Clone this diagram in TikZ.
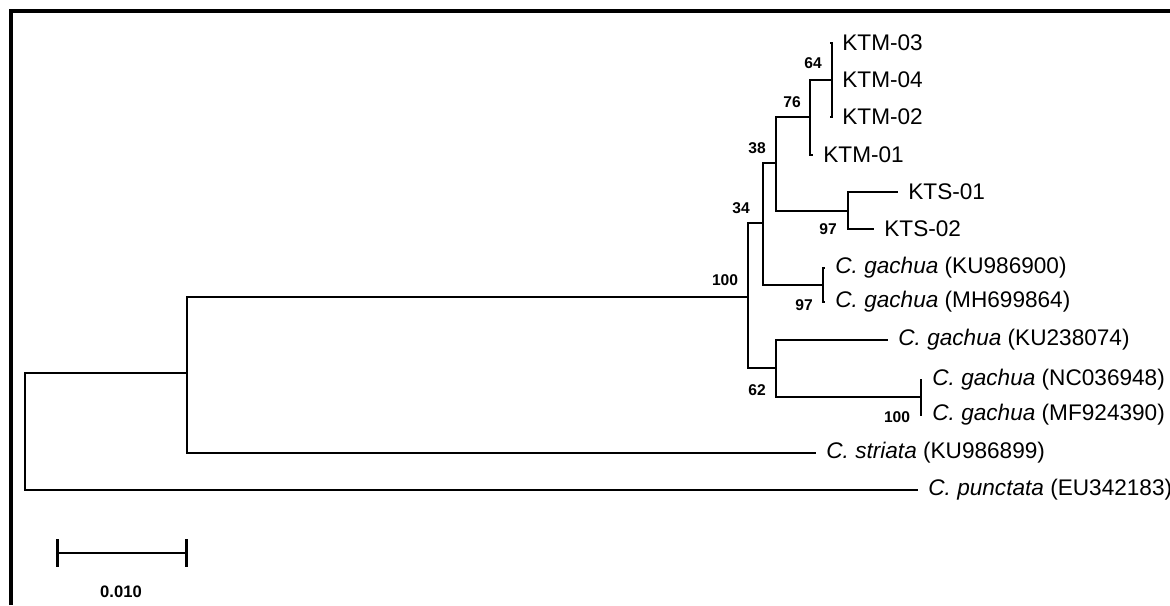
\documentclass[tikz,border=0pt]{standalone}
\usepackage{fontspec}
\setmainfont{Liberation Sans}
\newfontfamily\bsfont{Liberation Sans}
\begin{document}
\begin{tikzpicture}[x=0.5pt,y=-0.5pt,
  br/.style={line width=1.2pt,line cap=rect},
  leaf/.style={anchor=west,inner xsep=5.5pt,inner ysep=0pt,font=\fontsize{11.3pt}{12pt}\selectfont},
  boot/.style={inner sep=0pt,font=\bsfont\bfseries\fontsize{7.8pt}{8pt}\selectfont}]
\useasboundingbox (0,0) rectangle (1170,605);
\fill[white] (0,0) rectangle (1170,605);
% frame (top and left)
\draw[line width=1.6pt] (11,605) -- (11,11) -- (1170,11);
% internal nodes
\coordinate (R) at (25,431);
\coordinate (A) at (187,373);
\coordinate (B) at (748,297);
\coordinate (C) at (763,223);
\coordinate (D) at (776,163);
\coordinate (E) at (810,117);
\coordinate (F) at (832,80);
\coordinate (G) at (848,211);
\coordinate (H) at (823,285);
\coordinate (I) at (776,368);
\coordinate (J) at (921,397);
% leaves
\node[leaf] (ktm03) at (831,43) {KTM-03};
\node[leaf] (ktm04) at (831,80) {KTM-04};
\node[leaf] (ktm02) at (831,117) {KTM-02};
\node[leaf] (ktm01) at (812,155) {KTM-01};
\node[leaf] (kts01) at (897,192) {KTS-01};
\node[leaf] (kts02) at (873,229) {KTS-02};
\node[leaf] (g1) at (824,268) {\textit{C. gachua} (KU986900)};
\node[leaf] (g2) at (824,302) {\textit{C. gachua} (MH699864)};
\node[leaf] (g3) at (887,340) {\textit{C. gachua} (KU238074)};
\node[leaf] (g4) at (921,380) {\textit{C. gachua} (NC036948)};
\node[leaf] (g5) at (921,415) {\textit{C. gachua} (MF924390)};
\node[leaf] (cs) at (815,453) {\textit{C. striata} (KU986899)};
\node[leaf] (cp) at (917,490) {\textit{C. punctata} (EU342183)};
% branches
\draw[br] (R) |- (A);
\draw[br] (R) |- (cp.west);
\draw[br] (A) |- (B);
\draw[br] (A) |- (cs.west);
\draw[br] (B) |- (C);
\draw[br] (B) |- (I);
\draw[br] (C) |- (D);
\draw[br] (C) |- (H);
\draw[br] (D) |- (E);
\draw[br] (D) |- (G);
\draw[br] (E) |- (F);
\draw[br] (E) |- (ktm01.west);
\draw[br] (F) |- (ktm03.west);
\draw[br] (F) |- (ktm02.west);
\draw[br] (G) |- (kts01.west);
\draw[br] (G) |- (kts02.west);
\draw[br] (H) |- (g1.west);
\draw[br] (H) |- (g2.west);
\draw[br] (I) |- (g3.west);
\draw[br] (I) |- (J);
\draw[br] (J) |- (g4.west);
\draw[br] (J) |- (g5.west);
% bootstrap values
\node[boot] (b64) at (813,63) {64};
\node[boot] (b76) at (792,102) {76};
\node[boot] (b38) at (757,148) {38};
\node[boot] (b34) at (741,208) {34};
\node[boot] (b97a) at (828,229) {97};
\node[boot] (b100a) at (725,280) {100};
\node[boot] (b97b) at (804,305) {97};
\node[boot] (b62) at (757,390) {62};
\node[boot] (b100b) at (897,417) {100};
% scale bar
\coordinate (s1) at (57,553);
\coordinate (s2) at (186,553);
\draw[line width=1.3pt] (s1) -- (s2);
\draw[line width=1.5pt] ([yshift=7]s1) -- ([yshift=-7]s1);
\draw[line width=1.5pt] ([yshift=7]s2) -- ([yshift=-7]s2);
\node[inner sep=0pt,font=\bsfont\bfseries\fontsize{8.3pt}{9pt}\selectfont] (sl) at (121,592) {0.010};
\end{tikzpicture}
\end{document}
